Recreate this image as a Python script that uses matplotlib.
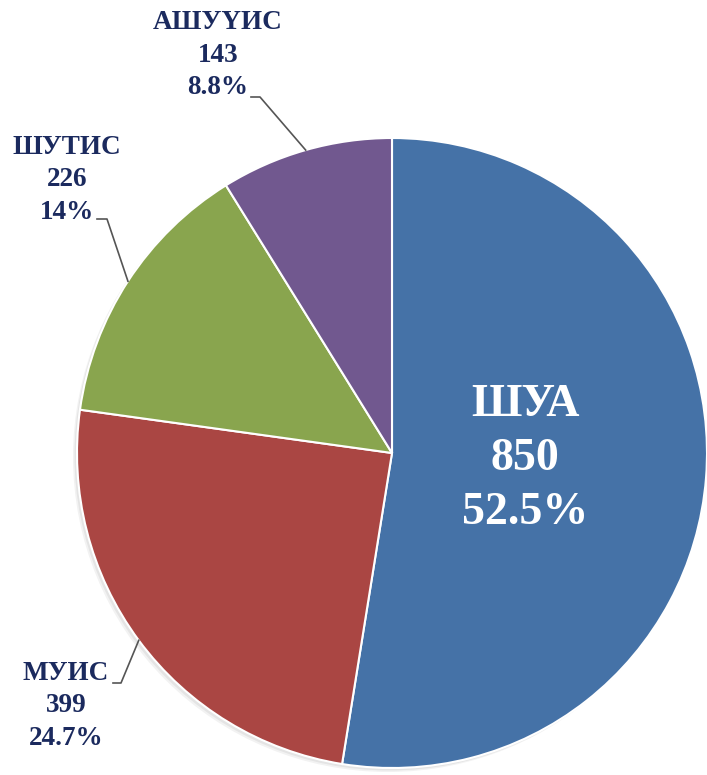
import numpy as np
import matplotlib
matplotlib.use("Agg")
import matplotlib.pyplot as plt
import matplotlib.patches as patches

# Data
names = ["ШУА", "МУИС", "ШУТИС", "АШУҮИС"]
values = [850, 399, 226, 143]
pct_labels = ["52.5%", "24.7%", "14%", "8.8%"]

# Excel 2010 style colors
COLORS = ["#4572A7", "#AA4643", "#89A54E", "#71588F"]
TEXT_COLOR = "#1B2A5E"
LINE_COLOR = "#555555"

W, H = 707, 775
CX, CY, R = 392, H - 453, 315

fig = plt.figure(figsize=(W / 100, H / 100), dpi=100)
ax = fig.add_axes([0, 0, 1, 1])
ax.set_xlim(0, W)
ax.set_ylim(0, H)
ax.set_aspect("equal")
ax.axis("off")

# soft shadow under the pie
for off, a in [(4, 0.10), (2.5, 0.12)]:
    ax.add_patch(patches.Circle((CX - off, CY - off), R, color="#808080", alpha=a, lw=0, zorder=0))

wedges, _ = ax.pie(values, colors=COLORS, startangle=90, counterclock=False,
                   center=(CX, CY), radius=R,
                   wedgeprops=dict(edgecolor="white", linewidth=1.5))
ax.set_xlim(0, W)
ax.set_ylim(0, H)

font = dict(family=["Liberation Serif", "DejaVu Serif"], weight="bold")

# big label inside the first slice
ax.text(525, H - 459, f"{names[0]}\n{values[0]}\n{pct_labels[0]}", color="white",
        fontsize=33, ha="center", va="center", linespacing=1.38, **font)

# outside labels: text center, elbow start, elbow corner (pixel coords, y down)
outside = {
    1: ((66, 706), (113, 683), (121, 683)),
    2: ((67, 180), (97, 219), (107, 219)),
    3: ((218, 55), (251, 97), (260, 97)),
}
for i, ((tx, ty), p0, p1) in outside.items():
    ax.text(tx, H - ty, f"{names[i]}\n{values[i]}\n{pct_labels[i]}", color=TEXT_COLOR,
            fontsize=19.5, ha="center", va="center", linespacing=1.42, **font)
    w = wedges[i]
    mid = np.deg2rad((w.theta1 + w.theta2) / 2)
    ex, ey = CX + R * np.cos(mid), CY + R * np.sin(mid)
    ax.plot([p0[0], p1[0], ex], [H - p0[1], H - p1[1], ey], color=LINE_COLOR, lw=1.2, zorder=3)

fig.savefig("out.png", dpi=100)
plt.close(fig)
